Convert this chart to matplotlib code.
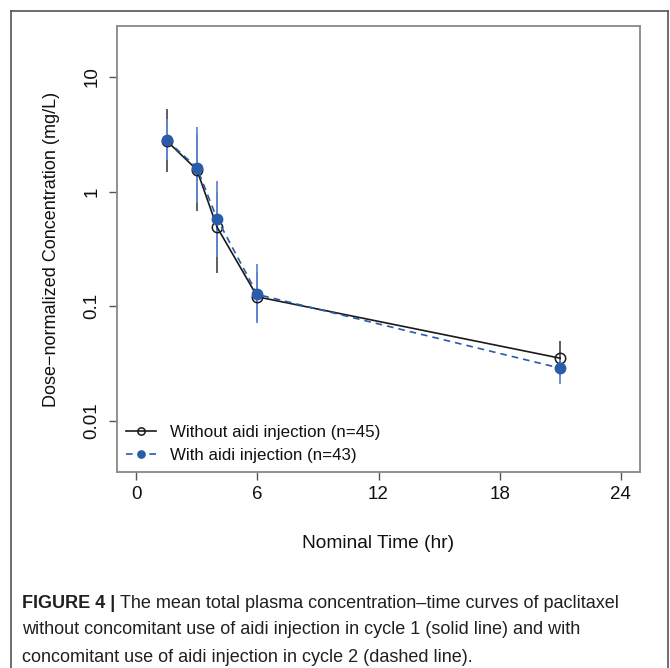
import numpy as np
import matplotlib
matplotlib.use("Agg")
import matplotlib.pyplot as plt
from matplotlib.lines import Line2D

plt.rcParams['font.family'] = ['Liberation Sans', 'DejaVu Sans']

# data
time_hr = [1.5, 3, 4, 6, 21]
conc_without = [2.78, 1.55, 0.49, 0.121, 0.0353]
without_lo = [1.49, 0.68, 0.196, 0.075, 0.025]
without_hi = [5.27, 3.2, 1.0, 0.20, 0.050]
conc_with = [2.82, 1.62, 0.58, 0.127, 0.0289]
with_lo = [1.90, 0.80, 0.27, 0.072, 0.021]
with_hi = [4.31, 3.67, 1.25, 0.232, 0.034]

x_ticks = [0, 6, 12, 18, 24]
y_ticks = [0.01, 0.1, 1, 10]
y_ticklabels = ["0.01", "0.1", "1", "10"]
legend_labels = ["Without aidi injection (n=45)", "With aidi injection (n=43)"]

black = "#1a1a1a"
blue = "#2a5caa"
blue_bar = "#5f8ad6"

fig = plt.figure(figsize=(6.7, 6.68), dpi=100)
W, H = 670, 668
ax = fig.add_axes([117 / W, 1 - 472 / H, (640 - 117) / W, (472 - 26) / H])

ax.vlines(time_hr, without_lo, without_hi, color="#333333", lw=1.1, zorder=2)
ax.vlines(time_hr, with_lo, with_hi, color=blue_bar, lw=1.3, zorder=3)
ax.plot(time_hr, conc_without, color=black, lw=1.2, marker="o", ms=7.5,
        mfc="none", mec=black, mew=1.1, zorder=4, label=legend_labels[0])
ax.plot(time_hr, conc_with, color=blue, lw=1.2, ls=(0, (4, 3)), marker="o",
        ms=7.5, mfc=blue, mec=blue, zorder=5, label=legend_labels[1])

ax.set_yscale("log")
ax.set_xlim(-0.96, 24.96)
ax.set_ylim(10 ** -2.445, 10 ** 1.445)
ax.set_xticks(x_ticks)
ax.set_xticklabels([str(v) for v in x_ticks], fontsize=13.5)
ax.set_yticks(y_ticks)
ax.set_yticklabels(y_ticklabels, fontsize=13.5, rotation=90, va="center")
ax.minorticks_off()
ax.tick_params(axis="both", length=6, width=1.0, color="#555555",
               labelcolor="#111111")
ax.tick_params(axis="x", pad=4)
ax.tick_params(axis="y", pad=6)
for sp in ax.spines.values():
    sp.set_color("#888888")
    sp.set_linewidth(1.3)

ax.set_xlabel("Nominal Time (hr)", fontsize=13.8, labelpad=23, color="#111111")
ax.set_ylabel("Dose\u2212normalized Concentration (mg/L)", fontsize=13,
              labelpad=17, color="#111111")

leg = ax.legend(loc="lower left", frameon=False, fontsize=12.2,
                handlelength=1.75, handletextpad=0.85, labelspacing=0.45,
                markerscale=0.7, borderaxespad=0.2, borderpad=0.35)
for t in leg.get_texts():
    t.set_color("#111111")

# outer panel frame (open at the bottom)
frame_col = "#555555"
fig.add_artist(Line2D([11 / W, 11 / W], [0, 1 - 11 / H], color=frame_col, lw=1.2))
fig.add_artist(Line2D([11 / W, 668 / W], [1 - 11 / H, 1 - 11 / H], color=frame_col, lw=1.2))
fig.add_artist(Line2D([668 / W, 668 / W], [0, 1 - 11 / H], color=frame_col, lw=1.2))

# caption
cap_col = "#231f20"
cap_size = 13
x0 = 22 / W
t1 = fig.text(x0, 1 - 603 / H, "FIGURE 4 |", fontsize=cap_size, weight="bold",
              color=cap_col, va="center")
fig.canvas.draw()
bb = t1.get_window_extent()
fig.text((bb.x1 + 5) / W, 1 - 603 / H,
         "The mean total plasma concentration\u2013time curves of paclitaxel",
         fontsize=cap_size, color=cap_col, va="center")
fig.text(x0, 1 - 630 / H,
         "without concomitant use of aidi injection in cycle 1 (solid line) and with",
         fontsize=cap_size, color=cap_col, va="center")
fig.text(x0, 1 - 657 / H,
         "concomitant use of aidi injection in cycle 2 (dashed line).",
         fontsize=cap_size, color=cap_col, va="center")

fig.savefig("out.png", dpi=100)
